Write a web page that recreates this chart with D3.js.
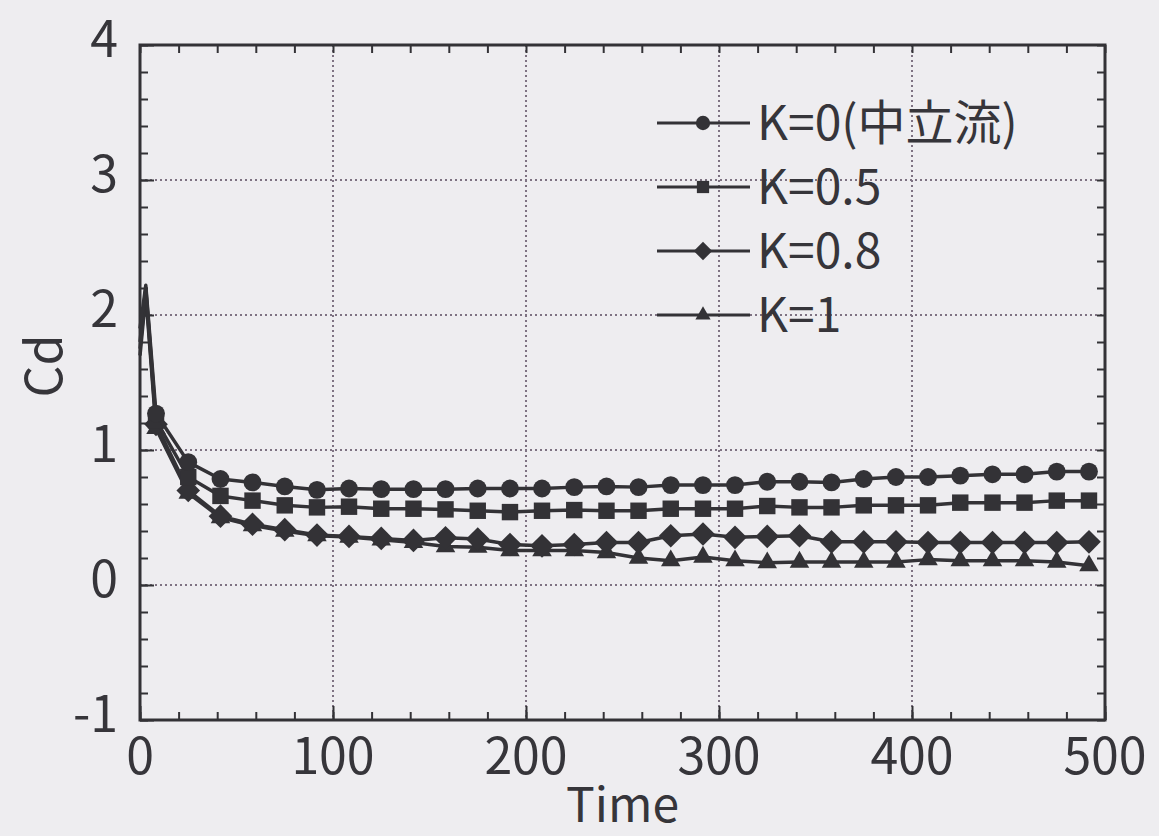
<!DOCTYPE html>
<html lang="ja">

<head>
  <meta charset="UTF-8">
  <title>Cd vs Time</title>
  <style>
    body { margin: 0; background: #eeedf0; }
    svg text { font-family: "Noto Sans CJK JP", "Noto Sans", sans-serif; fill: #36353a; }
  </style>
</head>

<body>
  <svg id="svg" width="1159" height="836"></svg>

  <script src="https://d3js.org/d3.v7.min.js"></script>
  <script>
    // lead-in samples (no markers)
    const leadTimes = [0, 3]
    const leadK0 = [1.9, 2.22]
    const leadK05 = [1.8, 2.2]
    const leadK08 = [1.75, 2.18]
    const leadK1 = [1.7, 2.15]

    // marker samples
    const times = [8.3, 25, 41.7, 58.3, 75, 91.7, 108.3, 125, 141.7, 158.3,
      175, 191.7, 208.3, 225, 241.7, 258.3, 275, 291.7, 308.3, 325,
      341.7, 358.3, 375, 391.7, 408.3, 425, 441.7, 458.3, 475, 491.7]
    const k0 = [1.27, 0.91, 0.785, 0.76, 0.73, 0.705, 0.715, 0.71, 0.71, 0.71,
      0.715, 0.715, 0.715, 0.725, 0.73, 0.725, 0.74, 0.74, 0.74, 0.765,
      0.765, 0.76, 0.785, 0.8, 0.8, 0.81, 0.82, 0.82, 0.84, 0.84]
    const k05 = [1.22, 0.8, 0.66, 0.625, 0.59, 0.575, 0.58, 0.565, 0.565, 0.56,
      0.55, 0.54, 0.55, 0.555, 0.55, 0.55, 0.565, 0.565, 0.565, 0.585,
      0.575, 0.575, 0.59, 0.59, 0.59, 0.61, 0.61, 0.61, 0.625, 0.625]
    const k08 = [1.19, 0.7, 0.51, 0.45, 0.41, 0.37, 0.36, 0.345, 0.33, 0.35,
      0.34, 0.3, 0.29, 0.3, 0.315, 0.315, 0.365, 0.378, 0.353, 0.36,
      0.365, 0.32, 0.32, 0.32, 0.315, 0.315, 0.315, 0.315, 0.315, 0.32]
    const k1 = [1.16, 0.68, 0.5, 0.44, 0.4, 0.365, 0.355, 0.335, 0.315, 0.285,
      0.28, 0.255, 0.255, 0.255, 0.24, 0.2, 0.18, 0.207, 0.18, 0.165,
      0.17, 0.17, 0.17, 0.17, 0.188, 0.18, 0.18, 0.18, 0.17, 0.143]

    const seriesNames = ["K=0(中立流)", "K=0.5", "K=0.8", "K=1"]
    const xTicks = [0, 100, 200, 300, 400, 500]
    const yTicks = [-1, 0, 1, 2, 3, 4]

    const ink = "#333236"
    const pLeft = 140, pRight = 1105, pTop = 45, pBottom = 720

    const x = d3.scaleLinear().domain([0, 500]).range([pLeft, pRight])
    const y = d3.scaleLinear().domain([-1, 4]).range([pBottom, pTop])

    const svg = d3.select("#svg")

    // grid
    const grid = svg.append("g")
    grid.selectAll("line.gy")
      .data(yTicks.slice(1, -1))
      .enter().append("line")
      .attr("x1", pLeft).attr("x2", pRight)
      .attr("y1", d => y(d)).attr("y2", d => y(d))
    grid.selectAll("line.gx")
      .data(xTicks.slice(1, -1))
      .enter().append("line")
      .attr("x1", d => x(d)).attr("x2", d => x(d))
      .attr("y1", pTop).attr("y2", pBottom)
    grid.selectAll("line")
      .attr("stroke", "#7e7282")
      .attr("stroke-width", 2)
      .attr("stroke-dasharray", "2,3")

    // ticks (inward, all four sides)
    const minorX = d3.range(0, 501, 20)
    const minorY = d3.range(-1, 4.001, 0.2)
    const axes = [
      [d3.axisBottom(x).tickValues(minorX).tickSize(-8), `translate(0,${pBottom})`],
      [d3.axisBottom(x).tickValues(xTicks).tickSize(-14), `translate(0,${pBottom})`],
      [d3.axisTop(x).tickValues(minorX).tickSize(-8), `translate(0,${pTop})`],
      [d3.axisLeft(y).tickValues(minorY).tickSize(-8), `translate(${pLeft},0)`],
      [d3.axisLeft(y).tickValues(yTicks).tickSize(-14), `translate(${pLeft},0)`],
      [d3.axisRight(y).tickValues(minorY).tickSize(-8), `translate(${pRight},0)`]
    ]
    axes.forEach(([ax, tr]) => {
      const g = svg.append("g").attr("transform", tr).call(ax.tickFormat(""))
      g.select(".domain").remove()
      g.selectAll("line").attr("stroke", ink).attr("stroke-width", 2)
    })

    // frame
    svg.append("rect")
      .attr("x", pLeft).attr("y", pTop)
      .attr("width", pRight - pLeft).attr("height", pBottom - pTop)
      .attr("fill", "none").attr("stroke", ink).attr("stroke-width", 3)

    // tick labels
    svg.append("g").selectAll("text")
      .data(xTicks).enter().append("text")
      .attr("x", d => x(d)).attr("y", pBottom + 54)
      .attr("text-anchor", "middle")
      .style("font-size", "50px")
      .text(d => d)
    svg.append("g").selectAll("text")
      .data(yTicks).enter().append("text")
      .attr("x", pLeft - 22).attr("y", d => y(d) + 12)
      .attr("text-anchor", "end")
      .style("font-size", "50px")
      .text(d => d)

    svg.append("text")
      .attr("x", (pLeft + pRight) / 2).attr("y", 822)
      .attr("text-anchor", "middle")
      .style("font-size", "48px")
      .text("Time")
    svg.append("text")
      .attr("transform", "translate(62,366) rotate(-90)")
      .attr("text-anchor", "middle")
      .style("font-size", "50px")
      .text("Cd")

    // series
    const diamond = { draw(ctx, size) { const r = Math.sqrt(size / 2); ctx.moveTo(0, -r); ctx.lineTo(r, 0); ctx.lineTo(0, r); ctx.lineTo(-r, 0); ctx.closePath() } }
    const series = [
      { name: seriesNames[0], lead: leadK0, vals: k0, sym: d3.symbolCircle, size: 250, lsize: 160 },
      { name: seriesNames[1], lead: leadK05, vals: k05, sym: d3.symbolSquare, size: 270, lsize: 150 },
      { name: seriesNames[2], lead: leadK08, vals: k08, sym: diamond, size: 280, lsize: 170 },
      { name: seriesNames[3], lead: leadK1, vals: k1, sym: d3.symbolTriangle, size: 165, lsize: 100 }
    ]

    const line = d3.line().x(d => x(d[0])).y(d => y(d[1]))
    const plot = svg.append("g")

    series.slice().reverse().forEach(s => {
      const pts = leadTimes.map((t, i) => [t, s.lead[i]])
        .concat(times.map((t, i) => [t, s.vals[i]]))
      plot.append("path")
        .attr("d", line(pts))
        .attr("fill", "none")
        .attr("stroke", ink)
        .attr("stroke-width", 3.5)
        .attr("stroke-linejoin", "round")
      plot.append("g").selectAll("path")
        .data(times.map((t, i) => [t, s.vals[i]]))
        .enter().append("path")
        .attr("d", d3.symbol(s.sym, s.size))
        .attr("transform", d => `translate(${x(d[0])},${y(d[1])})`)
        .attr("fill", ink)
    })

    // legend
    const legend = svg.append("g").selectAll("g")
      .data(series).enter().append("g")
      .attr("transform", (d, i) => `translate(657,${123 + i * 64})`)
    legend.append("line")
      .attr("x1", 0).attr("x2", 93)
      .attr("stroke", ink).attr("stroke-width", 3)
    legend.append("path")
      .attr("d", d => d3.symbol(d.sym, d.lsize)())
      .attr("transform", "translate(46,0)")
      .attr("fill", ink)
    legend.append("text")
      .attr("x", 100).attr("y", 17)
      .style("font-size", "48px")
      .text(d => d.name)
  </script>
</body>

</html>
